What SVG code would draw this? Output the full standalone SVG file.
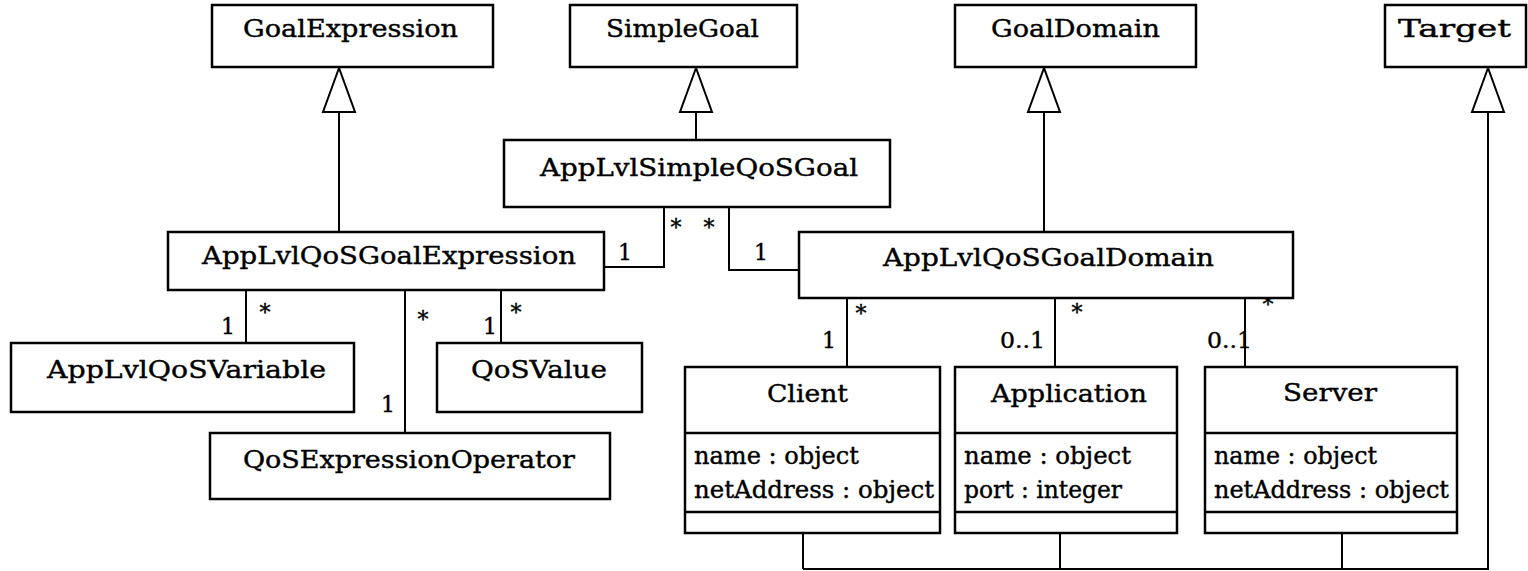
<svg xmlns="http://www.w3.org/2000/svg" width="1528" height="571" viewBox="0 0 1528 571">
  <style>
    .box { fill: #ffffff; stroke: #000000; stroke-width: 2.5; }
    .div { stroke: #000000; stroke-width: 2.5; }
    .ln { fill: none; stroke: #000000; stroke-width: 2; }
    .tri { fill: #ffffff; stroke: #000000; stroke-width: 2; stroke-linejoin: miter; }
    .name, .attr, .mult { font-family: "DejaVu Serif", "Liberation Serif", serif; fill: #000000; stroke: #000000; stroke-width: 0.4; }
    .name { font-size: 25px; }
    .attr { font-size: 24px; }
    .mult { font-size: 22px; }
  </style>
  <rect width="1528" height="571" fill="#ffffff"/>

  <!-- connectors -->
  <g id="connectors">
    <!-- generalization lines -->
    <line class="ln" x1="339" y1="112" x2="339" y2="232"/>
    <line class="ln" x1="696" y1="112" x2="696" y2="140"/>
    <line class="ln" x1="1044" y1="112" x2="1044" y2="232"/>
    <polyline class="ln" points="1488,112 1488,569 803,569"/>
    <line class="ln" x1="803" y1="533" x2="803" y2="569"/>
    <line class="ln" x1="1060" y1="533" x2="1060" y2="569"/>
    <line class="ln" x1="1342" y1="533" x2="1342" y2="569"/>
    <!-- hollow triangle heads -->
    <polygon class="tri" points="339,68 323,112 355,112"/>
    <polygon class="tri" points="696,68 680,112 712,112"/>
    <polygon class="tri" points="1044,68 1028,112 1060,112"/>
    <polygon class="tri" points="1488,68 1472,112 1504,112"/>
    <!-- associations -->
    <polyline class="ln" points="604,267 664,267 664,207"/>
    <polyline class="ln" points="729,207 729,270 799,270"/>
    <line class="ln" x1="246" y1="290" x2="246" y2="343"/>
    <line class="ln" x1="405" y1="290" x2="405" y2="433"/>
    <line class="ln" x1="501" y1="290" x2="501" y2="343"/>
    <line class="ln" x1="847" y1="298" x2="847" y2="367"/>
    <line class="ln" x1="1055" y1="298" x2="1055" y2="367"/>
    <line class="ln" x1="1245" y1="298" x2="1245" y2="367"/>
    <!-- multiplicities -->
    <text class="mult" x="625" y="260" text-anchor="middle">1</text>
    <text class="mult" x="676" y="235" text-anchor="middle">*</text>
    <text class="mult" x="709" y="235" text-anchor="middle">*</text>
    <text class="mult" x="761" y="260" text-anchor="middle">1</text>
    <text class="mult" x="228" y="334" text-anchor="middle">1</text>
    <text class="mult" x="265" y="320" text-anchor="middle">*</text>
    <text class="mult" x="423" y="327" text-anchor="middle">*</text>
    <text class="mult" x="388" y="412" text-anchor="middle">1</text>
    <text class="mult" x="490" y="334" text-anchor="middle">1</text>
    <text class="mult" x="516" y="320" text-anchor="middle">*</text>
    <text class="mult" x="861" y="321" text-anchor="middle">*</text>
    <text class="mult" x="829" y="348" text-anchor="middle">1</text>
    <text class="mult" x="1077" y="320" text-anchor="middle">*</text>
    <text class="mult" x="1000" y="348" textLength="45" lengthAdjust="spacingAndGlyphs">0..1</text>
    <text class="mult" x="1268" y="312" text-anchor="middle">*</text>
    <text class="mult" x="1207" y="348" textLength="45" lengthAdjust="spacingAndGlyphs">0..1</text>
  </g>

  <!-- classes -->
  <g id="GoalExpression">
    <rect class="box" x="212" y="5" width="281" height="62"/>
    <text class="name" x="243" y="37" textLength="215" lengthAdjust="spacingAndGlyphs">GoalExpression</text>
  </g>
  <g id="SimpleGoal">
    <rect class="box" x="570" y="5" width="227" height="62"/>
    <text class="name" x="606" y="37" textLength="153" lengthAdjust="spacingAndGlyphs">SimpleGoal</text>
  </g>
  <g id="GoalDomain">
    <rect class="box" x="955" y="5" width="241" height="62"/>
    <text class="name" x="991" y="37" textLength="169" lengthAdjust="spacingAndGlyphs">GoalDomain</text>
  </g>
  <g id="Target">
    <rect class="box" x="1385" y="5" width="141" height="62"/>
    <text class="name" x="1398" y="37" textLength="113" lengthAdjust="spacingAndGlyphs">Target</text>
  </g>
  <g id="AppLvlSimpleQoSGoal">
    <rect class="box" x="504" y="140" width="386" height="67"/>
    <text class="name" x="540" y="176" textLength="318" lengthAdjust="spacingAndGlyphs">AppLvlSimpleQoSGoal</text>
  </g>
  <g id="AppLvlQoSGoalExpression">
    <rect class="box" x="168" y="232" width="436" height="58"/>
    <text class="name" x="202" y="264" textLength="374" lengthAdjust="spacingAndGlyphs">AppLvlQoSGoalExpression</text>
  </g>
  <g id="AppLvlQoSGoalDomain">
    <rect class="box" x="799" y="232" width="494" height="66"/>
    <text class="name" x="883" y="266" textLength="331" lengthAdjust="spacingAndGlyphs">AppLvlQoSGoalDomain</text>
  </g>
  <g id="AppLvlQoSVariable">
    <rect class="box" x="11" y="343" width="343" height="69"/>
    <text class="name" x="47" y="378" textLength="279" lengthAdjust="spacingAndGlyphs">AppLvlQoSVariable</text>
  </g>
  <g id="QoSValue">
    <rect class="box" x="437" y="343" width="205" height="69"/>
    <text class="name" x="471" y="378" textLength="136" lengthAdjust="spacingAndGlyphs">QoSValue</text>
  </g>
  <g id="QoSExpressionOperator">
    <rect class="box" x="210" y="433" width="400" height="66"/>
    <text class="name" x="243" y="468" textLength="332" lengthAdjust="spacingAndGlyphs">QoSExpressionOperator</text>
  </g>
  <g id="Client">
    <rect class="box" x="685" y="367" width="255" height="166"/>
    <line class="div" x1="685" y1="433" x2="940" y2="433"/>
    <line class="div" x1="685" y1="512" x2="940" y2="512"/>
    <text class="name" x="767" y="402" textLength="81" lengthAdjust="spacingAndGlyphs">Client</text>
    <text class="attr" x="694" y="464" textLength="165" lengthAdjust="spacingAndGlyphs">name : object</text>
    <text class="attr" x="694" y="498" textLength="240" lengthAdjust="spacingAndGlyphs">netAddress : object</text>
  </g>
  <g id="Application">
    <rect class="box" x="955" y="367" width="222" height="166"/>
    <line class="div" x1="955" y1="433" x2="1177" y2="433"/>
    <line class="div" x1="955" y1="512" x2="1177" y2="512"/>
    <text class="name" x="991" y="402" textLength="156" lengthAdjust="spacingAndGlyphs">Application</text>
    <text class="attr" x="964" y="464" textLength="167" lengthAdjust="spacingAndGlyphs">name : object</text>
    <text class="attr" x="964" y="498" textLength="158" lengthAdjust="spacingAndGlyphs">port : integer</text>
  </g>
  <g id="Server">
    <rect class="box" x="1205" y="367" width="252" height="166"/>
    <line class="div" x1="1205" y1="433" x2="1457" y2="433"/>
    <line class="div" x1="1205" y1="512" x2="1457" y2="512"/>
    <text class="name" x="1283" y="401" textLength="94" lengthAdjust="spacingAndGlyphs">Server</text>
    <text class="attr" x="1214" y="464" textLength="163" lengthAdjust="spacingAndGlyphs">name : object</text>
    <text class="attr" x="1214" y="498" textLength="235" lengthAdjust="spacingAndGlyphs">netAddress : object</text>
  </g>
</svg>
